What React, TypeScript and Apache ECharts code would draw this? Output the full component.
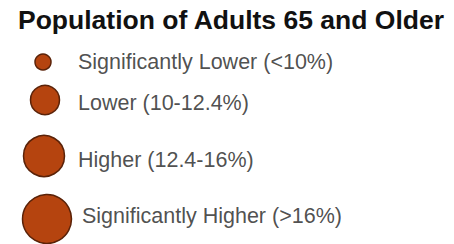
import React, { useEffect, useRef } from "react";
import * as echarts from "echarts";

const title = "Population of Adults 65 and Older";
const categories = [
  "Significantly Lower (<10%)",
  "Lower (10-12.4%)",
  "Higher (12.4-16%)",
  "Significantly Higher (>16%)",
];
const symbolDiameters = [16, 29, 41, 49];

// legend layout (pixel space of the 454x244 canvas)
const circleX = [43, 45, 44, 47];
const circleY = [62, 100, 156, 219];
const labelX = [78, 78, 78, 82];
const labelY = [62, 103, 160, 215.5];

export default function App() {
  const ref = useRef<HTMLDivElement>(null);
  useEffect(() => {
    if (!ref.current) return;
    const chart = echarts.init(ref.current, undefined, { renderer: "svg" });
    chart.setOption({
      animation: false,
      backgroundColor: "#ffffff",
      title: {
        text: title,
        left: 18,
        top: 6,
        padding: 0,
        textStyle: {
          fontFamily: "Liberation Sans",
          fontWeight: "bold",
          fontSize: 26.5,
          color: "#111111",
        },
      },
      grid: { left: 0, right: 0, top: 0, bottom: 0 },
      xAxis: { type: "value", min: 0, max: 454, show: false },
      yAxis: { type: "value", min: 0, max: 244, inverse: true, show: false },
      series: [
        {
          type: "scatter",
          symbol: "circle",
          data: categories.map((c, i) => ({
            name: c,
            value: [circleX[i], circleY[i]],
            symbolSize: symbolDiameters[i],
          })),
          itemStyle: {
            color: "#b5440f",
            borderColor: "#5a2208",
            borderWidth: 1.5,
            opacity: 1,
          },
          label: { show: false },
          silent: true,
        },
        {
          type: "scatter",
          symbolSize: 0,
          data: categories.map((c, i) => ({
            name: c,
            value: [labelX[i], labelY[i]],
          })),
          label: {
            show: true,
            position: "right",
            distance: 0,
            formatter: (p: any) => p.name,
            fontFamily: "Liberation Sans",
            fontSize: 21.5,
            color: "#222222",
            align: "left",
            verticalAlign: "middle",
          },
          silent: true,
        },
      ],
    });
    return () => chart.dispose();
  }, []);
  return (
    <div
      ref={ref}
      style={{ position: "fixed", left: 0, top: 0, width: 454, height: 244 }}
    />
  );
}
